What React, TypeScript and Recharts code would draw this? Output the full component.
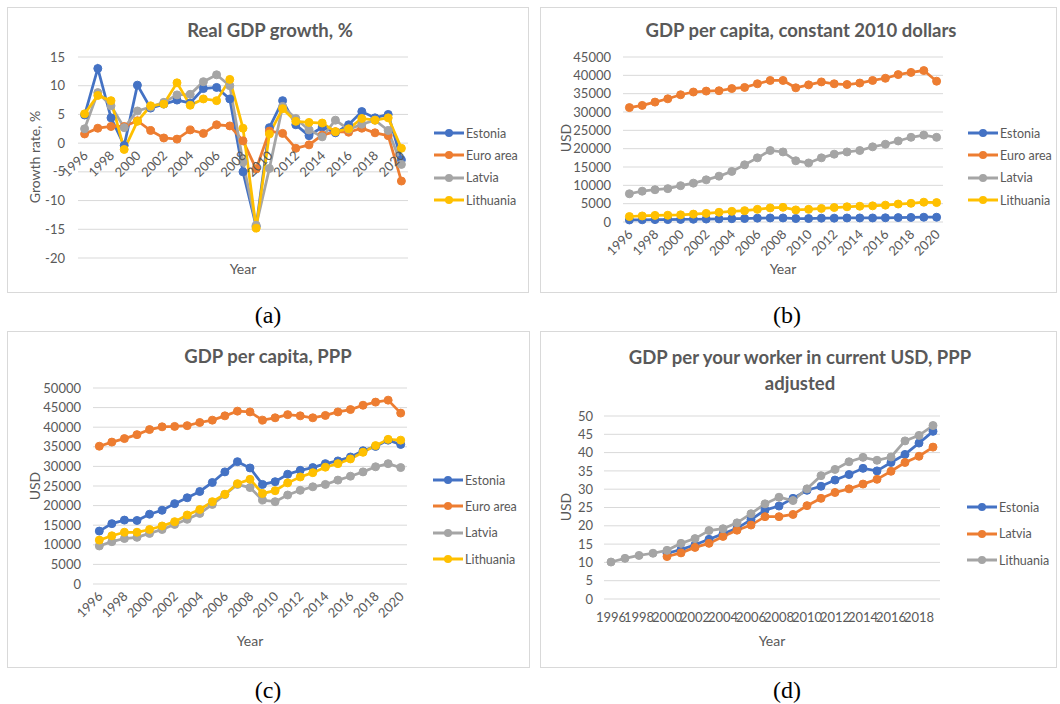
import { LineChart, Line, XAxis, YAxis, CartesianGrid, Legend } from 'recharts';

const BLUE = '#4472C4';
const ORANGE = '#ED7D31';
const GRAY = '#A5A5A5';
const GOLD = '#FFC000';
const INK = '#595959';
const GRID = '#D9D9D9';
const TICK_FS = 13;

const years = [1996, 1997, 1998, 1999, 2000, 2001, 2002, 2003, 2004, 2005, 2006, 2007, 2008,
  2009, 2010, 2011, 2012, 2013, 2014, 2015, 2016, 2017, 2018, 2019, 2020];
const workerYears = years.slice(0, 24);

// (a) Real GDP growth, %
const growthEstonia = [4.9, 13.0, 4.4, -0.4, 10.1, 6.1, 6.8, 7.5, 7.0, 9.5, 9.7, 7.7, -5.0, -14.5, 2.7, 7.4, 3.2, 1.3, 2.8, 1.8, 3.2, 5.5, 4.4, 5.0, -2.9];
const growthEuro = [1.6, 2.6, 2.9, 2.9, 3.9, 2.2, 0.9, 0.7, 2.3, 1.7, 3.2, 3.0, 0.4, -4.5, 2.1, 1.7, -0.9, -0.3, 1.4, 2.0, 1.9, 2.6, 1.8, 1.3, -6.6];
const growthLatvia = [2.5, 8.8, 6.5, 2.7, 5.6, 6.3, 7.1, 8.4, 8.5, 10.7, 11.9, 10.0, -3.3, -14.3, -4.4, 6.4, 4.3, 2.3, 1.1, 4.0, 2.4, 3.3, 4.0, 2.2, -3.7];
const growthLithuania = [5.1, 8.3, 7.4, -1.1, 3.8, 6.5, 6.8, 10.5, 6.6, 7.7, 7.4, 11.1, 2.6, -14.8, 1.6, 6.0, 3.8, 3.6, 3.5, 2.0, 2.5, 4.3, 4.0, 4.4, -0.9];
const growthTicks = [-20, -15, -10, -5, 0, 5, 10, 15];

// (b) GDP per capita, constant 2010 dollars
const constEstonia = [550, 600, 650, 650, 700, 750, 800, 850, 900, 950, 1050, 1100, 1100, 950, 950, 1050, 1050, 1100, 1100, 1100, 1150, 1200, 1250, 1300, 1300];
const constEuro = [31200, 31800, 32700, 33600, 34700, 35450, 35700, 35800, 36400, 36700, 37700, 38600, 38600, 36600, 37400, 38200, 37700, 37500, 37900, 38600, 39200, 40200, 40800, 41300, 38400];
const constLatvia = [7700, 8400, 8800, 9100, 9900, 10600, 11500, 12500, 13800, 15600, 17500, 19500, 19100, 16700, 16100, 17500, 18500, 19100, 19500, 20500, 21200, 22100, 23100, 23700, 23100];
const constLithuania = [1500, 1650, 1800, 1850, 1950, 2150, 2350, 2650, 2900, 3100, 3450, 3850, 4000, 3300, 3450, 3700, 3950, 4150, 4300, 4400, 4600, 4900, 5100, 5400, 5300];
const constTicks = [0, 5000, 10000, 15000, 20000, 25000, 30000, 35000, 40000, 45000];

// (c) GDP per capita, PPP
const pppEstonia = [13500, 15400, 16300, 16200, 17800, 18800, 20500, 22000, 23600, 25900, 28600, 31200, 29600, 25400, 26100, 28000, 29000, 29700, 30700, 31400, 32400, 34000, 35100, 36700, 35600];
const pppEuro = [35150, 36200, 37100, 38100, 39400, 40100, 40200, 40400, 41200, 41800, 42900, 44100, 43900, 41800, 42400, 43200, 42900, 42400, 43000, 43900, 44500, 45600, 46400, 46900, 43600];
const pppLatvia = [9700, 10800, 11600, 11900, 12900, 13900, 15200, 16500, 18000, 20300, 22800, 25400, 24600, 21400, 21000, 22700, 23900, 24800, 25400, 26500, 27500, 28600, 29900, 30700, 29700];
const pppLithuania = [11200, 12300, 13200, 13200, 13900, 14800, 15900, 17600, 19000, 21000, 22900, 25600, 26700, 23100, 23800, 25800, 27300, 28400, 29800, 30700, 31900, 33600, 35300, 36900, 36700];
const pppTicks = [0, 5000, 10000, 15000, 20000, 25000, 30000, 35000, 40000, 45000, 50000];

// (d) GDP per worker, current USD, PPP adjusted
const workerEstonia = [null, null, null, null, 12.5, 13.5, 14.8, 16.3, 17.8, 19.3, 21.7, 24.3, 25.4, 27.5, 29.7, 30.8, 32.5, 34.0, 35.7, 35.0, 37.3, 39.5, 42.6, 45.8];
const workerLatvia = [null, null, null, null, 11.6, 12.6, 14.1, 15.2, 17.1, 18.8, 20.2, 22.5, 22.5, 23.1, 25.5, 27.5, 29.1, 30.1, 31.4, 32.7, 34.9, 37.3, 39.0, 41.5];
const workerLithuania = [10.1, 11.1, 11.9, 12.5, 13.3, 15.2, 16.5, 18.7, 19.2, 20.8, 23.3, 26.0, 27.8, 26.9, 30.1, 33.7, 35.4, 37.5, 38.7, 37.9, 38.8, 43.2, 44.7, 47.4];
const workerTicks = [0, 5, 10, 15, 20, 25, 30, 35, 40, 45, 50];

const growthRows = years.map((y, i) => ({
  year: String(y), Estonia: growthEstonia[i], 'Euro area': growthEuro[i], Latvia: growthLatvia[i], Lithuania: growthLithuania[i],
}));
const constRows = years.map((y, i) => ({
  year: String(y), Estonia: constEstonia[i], 'Euro area': constEuro[i], Latvia: constLatvia[i], Lithuania: constLithuania[i],
}));
const pppRows = years.map((y, i) => ({
  year: String(y), Estonia: pppEstonia[i], 'Euro area': pppEuro[i], Latvia: pppLatvia[i], Lithuania: pppLithuania[i],
}));
const workerRows = workerYears.map((y, i) => ({
  year: String(y), Estonia: workerEstonia[i], Latvia: workerLatvia[i], Lithuania: workerLithuania[i],
}));

const fourSeries = [
  { key: 'Estonia', color: BLUE },
  { key: 'Euro area', color: ORANGE },
  { key: 'Latvia', color: GRAY },
  { key: 'Lithuania', color: GOLD },
];
const threeSeries = [
  { key: 'Estonia', color: BLUE },
  { key: 'Latvia', color: ORANGE },
  { key: 'Lithuania', color: GRAY },
];

function ExcelLegend({ payload, rowGap }: any) {
  return (
    <div>
      {(payload || []).map((p: any) => (
        <div key={p.value} style={{ display: 'flex', alignItems: 'center', height: rowGap }}>
          <svg width={32} height={10} style={{ flex: 'none' }}>
            <line x1={0} y1={5} x2={30} y2={5} stroke={p.color} strokeWidth={3} />
            <circle cx={15} cy={5} r={4} fill={p.color} />
          </svg>
          <span style={{ fontSize: 12.5, color: INK, whiteSpace: 'nowrap' }}>{p.value}</span>
        </div>
      ))}
    </div>
  );
}

function SlantTick({ x, y, payload, lift = 0 }: any) {
  const ax = x + 1;
  const ay = y - lift + 10;
  return (
    <text x={ax} y={ay} dy="0.35em" textAnchor="end" fill={INK} fontSize={TICK_FS}
      transform={`rotate(-45 ${ax} ${ay})`}>
      {payload.value}
    </text>
  );
}

function FlatTick({ x, y, payload }: any) {
  return (
    <text x={x} y={y + 18} dy="0.35em" textAnchor="middle" fill={INK} fontSize={TICK_FS}>
      {payload.value}
    </text>
  );
}

function Caption({ text, cx, cy }: { text: string; cx: number; cy: number }) {
  return (
    <div style={{
      position: 'absolute', left: cx - 40, top: cy - 15, width: 80, height: 30, lineHeight: '30px',
      textAlign: 'center', fontFamily: '"Liberation Serif", "Times New Roman", serif', fontSize: 24, color: '#000',
    }}>{text}</div>
  );
}

function Label({ text, cx, cy, size = 14, bold = false, rotate = false }: any) {
  return (
    <div style={{
      position: 'absolute', left: cx, top: cy, whiteSpace: 'nowrap', fontSize: size,
      fontWeight: bold ? 700 : 400, color: INK, lineHeight: 1,
      transform: `translate(-50%, -50%)${rotate ? ' rotate(-90deg)' : ''}`,
    }}>{text}</div>
  );
}

function Panel({ left, top, width, height, children }: any) {
  return (
    <div style={{
      position: 'absolute', left, top, width, height, boxSizing: 'border-box',
      border: `1px solid ${GRID}`, background: '#fff',
    }}>
      <div style={{ position: 'absolute', left: -1, top: -1 }}>{children}</div>
    </div>
  );
}

// plot geometry of panel (a), used to lift the year labels up to the zero line
const A_W = 522;
const A_H = 286;
const A_TOP = 50;
const A_XAXIS_H = 35;
const A_PLOT_H = A_H - A_TOP - A_XAXIS_H;
const A_LIFT = A_PLOT_H * (0 - growthTicks[0]) / (growthTicks[growthTicks.length - 1] - growthTicks[0]);

function lines(series: { key: string; color: string }[]) {
  return series.map((s) => (
    <Line key={s.key} type="linear" dataKey={s.key} name={s.key} stroke={s.color} strokeWidth={2.75}
      dot={{ r: 4, fill: s.color, stroke: s.color, strokeWidth: 1 }} activeDot={false}
      isAnimationActive={false} />
  ));
}

const TITLE_FS = 18.5;

export default function App() {
  return (
    <div style={{
      position: 'absolute', left: 0, top: 0, width: 1060, height: 704, background: '#fff',
      fontFamily: 'Lato, "Open Sans", "DejaVu Sans", sans-serif', overflow: 'hidden',
    }}>
      {/* (a) */}
      <Panel left={7} top={7} width={A_W} height={A_H}>
        <LineChart width={A_W} height={A_H} data={growthRows}
          margin={{ top: A_TOP, right: 121, bottom: 0, left: 0 }}>
          <CartesianGrid vertical={false} stroke={GRID} />
          <XAxis dataKey="year" height={A_XAXIS_H} interval={1} axisLine={false} tickLine={false}
            tickSize={0} tickMargin={0} padding={{ left: 6.6, right: 6.6 }}
            tick={<SlantTick lift={A_LIFT} />} />
          <YAxis width={71} domain={[-20, 15]} ticks={growthTicks} interval={0} axisLine={false}
            tickLine={false} tickSize={0} tickMargin={13} tick={{ fill: INK, fontSize: TICK_FS }} />
          <Legend layout="vertical" align="center" verticalAlign="middle"
            wrapperStyle={{ left: 427, top: 115, width: 'auto' }}
            content={<ExcelLegend rowGap={22.3} />} />
          {lines(fourSeries)}
        </LineChart>
        <Label text="Real GDP growth, %" cx={263} cy={23} size={TITLE_FS} bold />
        <Label text="Growth rate, %" cx={28} cy={150} rotate />
        <Label text="Year" cx={236} cy={262} />
      </Panel>

      {/* (b) */}
      <Panel left={540} top={7} width={517} height={286}>
        <LineChart width={517} height={286} data={constRows}
          margin={{ top: 50, right: 114, bottom: 11, left: 0 }}>
          <CartesianGrid vertical={false} stroke={GRID} />
          <XAxis dataKey="year" height={60} interval={1} axisLine={false} tickLine={false}
            tickSize={0} tickMargin={0} padding={{ left: 6.4, right: 6.4 }} tick={<SlantTick />} />
          <YAxis width={83} domain={[0, 45000]} ticks={constTicks} interval={0} axisLine={false}
            tickLine={false} tickSize={0} tickMargin={12} tick={{ fill: INK, fontSize: TICK_FS }} />
          <Legend layout="vertical" align="center" verticalAlign="middle"
            wrapperStyle={{ left: 428, top: 115, width: 'auto' }}
            content={<ExcelLegend rowGap={22.3} />} />
          {lines(fourSeries)}
        </LineChart>
        <Label text="GDP per capita, constant 2010 dollars" cx={261} cy={23} size={TITLE_FS} bold />
        <Label text="USD" cx={26} cy={131} rotate />
        <Label text="Year" cx={243} cy={262} />
      </Panel>

      {/* (c) */}
      <Panel left={7} top={331} width={523} height={337}>
        <LineChart width={523} height={337} data={pppRows}
          margin={{ top: 57, right: 123, bottom: 14, left: 0 }}>
          <CartesianGrid vertical={false} stroke={GRID} />
          <XAxis dataKey="year" height={70} interval={1} axisLine={false} tickLine={false}
            tickSize={0} tickMargin={0} padding={{ left: 6.3, right: 6.3 }} tick={<SlantTick />} />
          <YAxis width={86} domain={[0, 50000]} ticks={pppTicks} interval={0} axisLine={false}
            tickLine={false} tickSize={0} tickMargin={12} tick={{ fill: INK, fontSize: TICK_FS }} />
          <Legend layout="vertical" align="center" verticalAlign="middle"
            wrapperStyle={{ left: 426, top: 136, width: 'auto' }}
            content={<ExcelLegend rowGap={26.3} />} />
          {lines(fourSeries)}
        </LineChart>
        <Label text="GDP per capita, PPP" cx={261} cy={25} size={TITLE_FS} bold />
        <Label text="USD" cx={28} cy={155} rotate />
        <Label text="Year" cx={243} cy={310} />
      </Panel>

      {/* (d) */}
      <Panel left={540} top={331} width={517} height={337}>
        <LineChart width={517} height={337} data={workerRows}
          margin={{ top: 85, right: 117, bottom: 29, left: 0 }}>
          <CartesianGrid vertical={false} stroke={GRID} />
          <XAxis dataKey="year" height={40} interval={1} axisLine={false} tickLine={false}
            tickSize={0} tickMargin={0} padding={{ left: 7, right: 7 }} tick={<FlatTick />} />
          <YAxis width={64} domain={[0, 50]} ticks={workerTicks} interval={0} axisLine={false}
            tickLine={false} tickSize={0} tickMargin={11} tick={{ fill: INK, fontSize: TICK_FS }} />
          <Legend layout="vertical" align="center" verticalAlign="middle"
            wrapperStyle={{ left: 427, top: 163, width: 'auto' }}
            content={<ExcelLegend rowGap={26.5} />} />
          {lines(threeSeries)}
        </LineChart>
        <Label text="GDP per your worker in current USD, PPP" cx={260} cy={26} size={TITLE_FS} bold />
        <Label text="adjusted" cx={260} cy={52} size={TITLE_FS} bold />
        <Label text="USD" cx={26} cy={176} rotate />
        <Label text="Year" cx={232} cy={310} />
      </Panel>

      <Caption text="(a)" cx={268} cy={315} />
      <Caption text="(b)" cx={787} cy={315} />
      <Caption text="(c)" cx={268} cy={690} />
      <Caption text="(d)" cx={787} cy={690} />
    </div>
  );
}
